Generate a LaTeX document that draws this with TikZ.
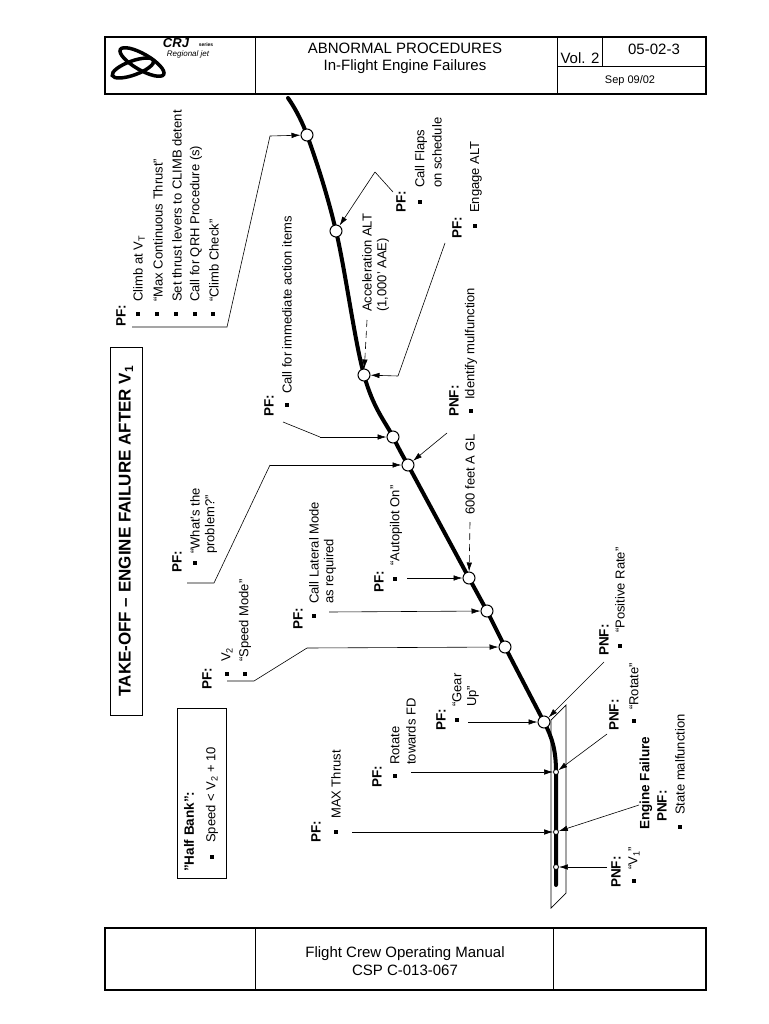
\documentclass[tikz,border=0pt]{standalone}
\usepackage{fontspec}
\setmainfont{Liberation Sans}
\usetikzlibrary{arrows.meta}
\tikzset{
 lab/.style={rotate=90,anchor=west,inner sep=0pt,font=\fontsize{13}{15}\selectfont},
 hd/.style={rotate=90,anchor=west,inner sep=0pt,font=\fontsize{13.5}{15}\selectfont\bfseries},
 bul/.style={fill=black,minimum size=4.2pt,inner sep=0pt},
 pt/.style={circle,draw=black,fill=white,line width=1pt,minimum size=12pt,inner sep=0pt},
 spt/.style={circle,draw=black,fill=white,line width=0.8pt,minimum size=5pt,inner sep=0pt},
 lead/.style={line width=0.6pt,-{Latex[length=9pt,width=5.5pt]}},
 dsh/.style={dash pattern=on 7pt off 4pt},
 plain/.style={line width=0.6pt},
 frame/.style={line width=1.2pt}
}
\begin{document}
\begin{tikzpicture}[x=1pt,y=-1pt]
\useasboundingbox (0,0) rectangle (768,1024);
% header
\draw[frame] (105,37) rectangle (706,94);
\draw[plain] (255,37)--(255,94) (557,37)--(557,94) (602,37)--(602,66) (557,66)--(706,66);
\node[font=\fontsize{15}{17}\selectfont,align=center] (ttl) at (405,58) {ABNORMAL PROCEDURES\\In-Flight Engine Failures};
\node[font=\fontsize{15}{17}\selectfont] (vol) at (580,58) {Vol. 2};
\node[font=\fontsize{15}{17}\selectfont] (num) at (654,49) {05-02-3};
\node[font=\fontsize{11}{12}\selectfont] (dt) at (630,81) {Sep 09/02};
% logo
\draw[line width=3.5pt] (142,62) ellipse [x radius=25pt,y radius=8pt,rotate=-30];
\draw[line width=3.5pt] (133,68) ellipse [x radius=22pt,y radius=7pt,rotate=20];
\node[font=\fontsize{13}{14}\selectfont\bfseries\itshape] (crj) at (176,43) {CRJ};
\node[font=\fontsize{5}{6}\selectfont\bfseries] (ser) at (206,45) {series};
\node[font=\fontsize{8}{9}\selectfont\itshape] (rj) at (188,54) {Regional jet};
% footer
\draw[frame] (105,928) rectangle (706,990);
\draw[plain] (255,928)--(255,990) (553,928)--(553,990);
\node[font=\fontsize{15}{18}\selectfont,align=center] (ft) at (405,961) {Flight Crew Operating Manual\\CSP C-013-067};
% title box
\draw[line width=0.9pt] (110,347) rectangle (142,715);
\node[rotate=90,font=\fontsize{17}{19}\selectfont\bfseries] (title) at (126,531) {TAKE-OFF -- ENGINE FAILURE AFTER V\textsubscript{1}};
% half bank box
\draw[line width=0.9pt] (177,708) rectangle (226,878);
\node[hd] (hb) at (189,872) {"Half Bank":};
\node[bul] (hbb) at (212,857) {};
\node[lab] (hbt) at (212,843) {Speed < V\textsubscript{2} + 10};
% runway
\draw[line width=0.7pt,fill=white] (551,720)--(566,705)--(566,893)--(551,908)--cycle;
% flight path
\draw[line width=4pt,line cap=round] plot[smooth,tension=0.6] coordinates{(288,98) (307,135) (336,231) (364,375) (393,437) (408,465)} -- (469,578) -- (487,611) -- (505,647) -- (544,722) .. controls (552,737) and (556,750) .. (556,772) -- (556,885);
\node[pt] (c1) at (307,135) {};
\node[pt] (c2) at (336,231) {};
\node[pt] (c3) at (364,375) {};
\node[pt] (c4) at (393,437) {};
\node[pt] (c5) at (408,465) {};
\node[pt] (c6) at (469,578) {};
\node[pt] (c7) at (487,611) {};
\node[pt] (c8) at (505,647) {};
\node[pt] (c9) at (544,722) {};
\node[spt] (s1) at (556,772) {};
\node[spt] (s2) at (556,832) {};
\node[spt] (s3) at (556,867) {};
% top-left PF block
\node[hd] (pf1) at (121,327) {PF:};
\foreach \x in {138,157,176,195,213} \node[bul] at (\x,314) {};
\node[lab] (t11) at (139,302) {Climb at V\textsubscript{T}};
\node[lab] (t12) at (158,302) {``Max Continuous Thrust''};
\node[lab] (t13) at (177,302) {Set thrust levers to CLIMB detent};
\node[lab] (t14) at (196,302) {Call for QRH Procedure (s)};
\node[lab] (t15) at (214,302) {``Climb Check''};
\coordinate (a1) at (132,327);
\draw[plain] (a1)--(227,327)--(270,136);
\draw[lead] (270,136)--(c1);
% Call flaps
\node[hd] (pf2) at (401,213) {PF:};
\node[bul] (b2) at (420,202) {};
\node[lab] (t21) at (421,188) {Call Flaps};
\node[lab] (t22) at (437,188) {on schedule};
\coordinate (a2) at (393,192);
\draw[plain] (a2)--(375,172);
\draw[lead] (375,172)--(c2);
% Engage ALT
\node[hd] (pf3) at (457,239) {PF:};
\node[bul] (b3) at (475,226) {};
\node[lab] (t31) at (476,213) {Engage ALT};
\coordinate (a3) at (445,243);
\draw[plain] (a3)--(398,376);
\draw[lead] (398,376)--(c3);
% Acceleration ALT
\node[lab] (t41) at (367,312) {Acceleration ALT};
\node[lab] (t42) at (383,312) {(1,000' AAE)};
\coordinate (a4) at (367,320);
\draw[lead,dsh] (a4)--(c3);
% immediate action
\node[hd] (pf5) at (269,417) {PF:};
\node[bul] (b5) at (287,405) {};
\node[lab] (t51) at (287,394) {Call for immediate action items};
\coordinate (a5) at (283,422);
\draw[plain] (a5)--(320,437);
\draw[lead] (320,437)--(c4);
% PNF identify
\node[hd] (pf6) at (454,417) {PNF:};
\node[bul] (b6) at (471,411) {};
\node[lab] (t61) at (471,400) {Identify mulfunction};
\coordinate (a6) at (447,433);
\draw[lead] (a6)--(c5);
% What's the problem
\node[hd] (pf7) at (177,573) {PF:};
\node[bul] (b7) at (195,563) {};
\node[lab] (t71) at (195,554) {``What's the};
\node[lab] (t72) at (211,554) {problem?''};
\coordinate (a7) at (187,583);
\draw[plain] (a7)--(214,583)--(270,465);
\draw[lead] (270,465)--(c5);
% 600 feet
\node[lab] (t81) at (470,515) {600 feet A GL};
\coordinate (a8) at (470,522);
\draw[lead,dsh] (a8)--(c6);
% Autopilot
\node[hd] (pf9) at (379,593) {PF:};
\node[bul] (b9) at (395,579) {};
\node[lab] (t91) at (396,566) {``Autopilot On''};
\coordinate (a9) at (407,578);
\draw[lead] (a9)--(c6);
% Lateral mode
\node[hd] (pf10) at (298,630) {PF:};
\node[bul] (b10) at (314,616) {};
\node[lab] (t101) at (314,604) {Call Lateral Mode};
\node[lab] (t102) at (330,604) {as required};
\coordinate (a10) at (329,612);
\draw[lead] (a10)--(c7);
% V2 speed mode
\node[hd] (pf11) at (207,690) {PF:};
\node[bul] at (227,674) {};
\node[bul] at (245,674) {};
\node[lab] (t111) at (227,662) {V\textsubscript{2}};
\node[lab] (t112) at (245,662) {``Speed Mode''};
\coordinate (a11) at (227,681);
\draw[plain] (a11)--(254,681)--(307,648);
\draw[lead] (307,648)--(c8);
% Positive rate
\node[hd] (pf12) at (604,656) {PNF:};
\node[bul] (b12) at (620,646) {};
\node[lab] (t121) at (620,633) {``Positive Rate''};
\coordinate (a12) at (604,662);
\draw[lead] (a12)--(c9);
% Gear up
\node[hd] (pf13) at (441,731) {PF:};
\node[bul] (b13) at (457,720) {};
\node[lab] (t131) at (457,707) {``Gear};
\node[lab] (t132) at (473,707) {Up''};
\coordinate (a13) at (468,722);
\draw[lead] (a13)--(c9);
% Rotate PNF
\node[hd] (pf14) at (614,731) {PNF:};
\node[bul] (b14) at (634,721) {};
\node[lab] (t141) at (634,710) {``Rotate''};
\coordinate (a14) at (607,734);
\draw[lead] (a14)--(s1);
% Rotate towards FD
\node[hd] (pf15) at (377,788) {PF:};
\node[bul] (b15) at (395,776) {};
\node[lab] (t151) at (395,765) {Rotate};
\node[lab] (t152) at (411,765) {towards FD};
\coordinate (a15) at (411,772);
\draw[lead] (a15)--(s1);
% Engine failure
\node[hd] (ef) at (646,830) {Engine Failure};
\node[hd] (pf16) at (662,822) {PNF:};
\node[bul] (b16) at (680,827) {};
\node[lab] (t161) at (680,815) {State malfunction};
\coordinate (a16) at (639,805);
\draw[lead] (a16)--(s2);
% MAX thrust
\node[hd] (pf17) at (316,843) {PF:};
\node[bul] (b17) at (336,832) {};
\node[lab] (t171) at (336,819) {MAX Thrust};
\coordinate (a17) at (352,832);
\draw[lead] (a17)--(s2);
% V1
\node[hd] (pf18) at (616,888) {PNF:};
\node[bul] (b18) at (634,881) {};
\node[lab] (t181) at (634,870) {``V\textsubscript{1}''};
\coordinate (a18) at (607,867);
\draw[lead] (a18)--(s3);
\end{tikzpicture}
\end{document}
